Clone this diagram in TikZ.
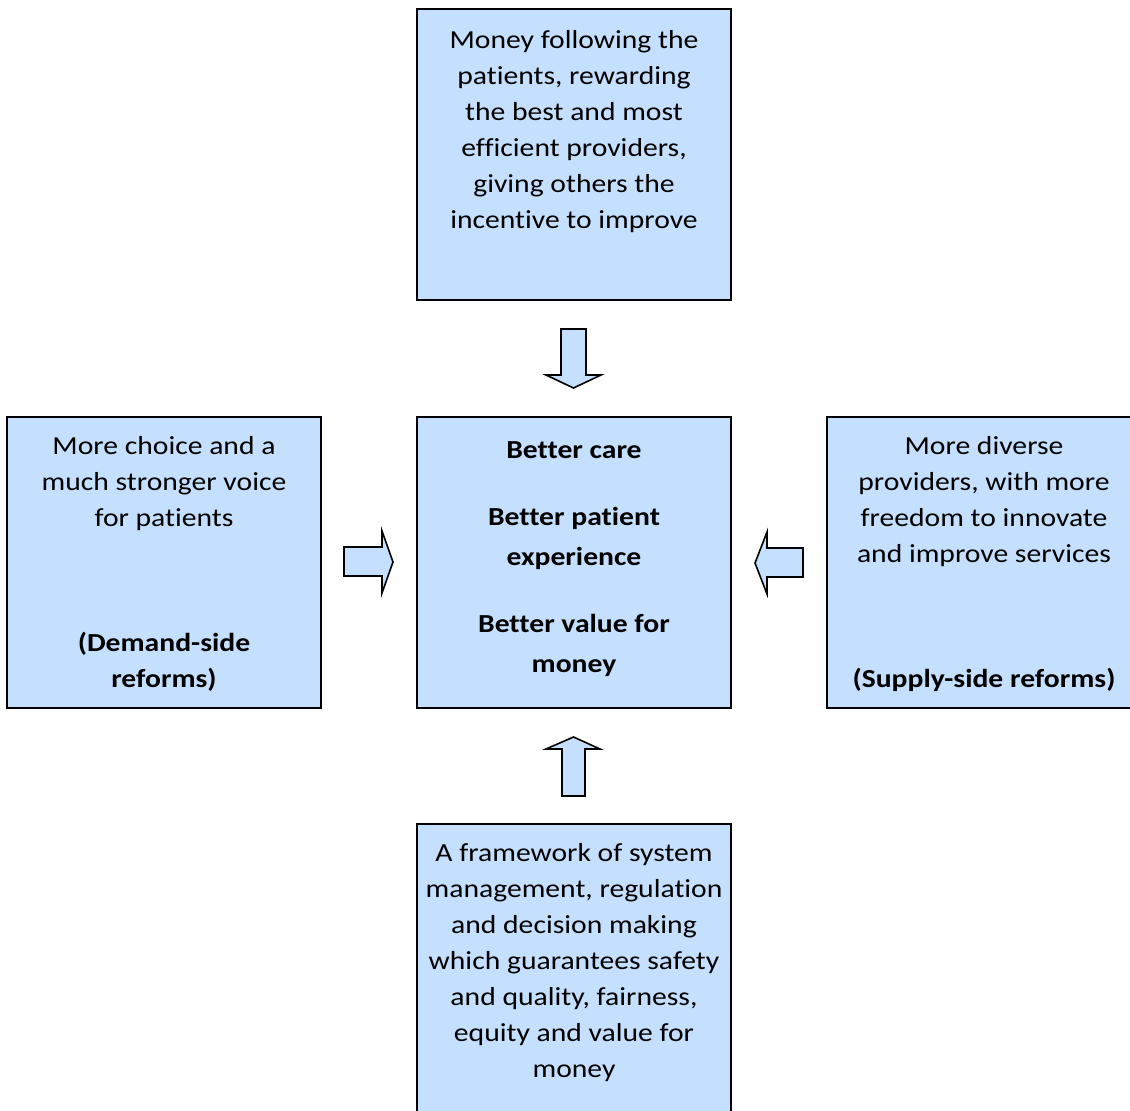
\documentclass[tikz,border=0pt]{standalone}
\usepackage{fontspec}
\setmainfont{Carlito}[FakeStretch=1.14,Ligatures=NoCommon]
\definecolor{boxfill}{RGB}{197,224,255}
\begin{document}
\begin{tikzpicture}[x=1pt,y=-1pt,
  panel/.style={draw=black,fill=boxfill,line width=1.5pt},
  ln/.style={anchor=base,inner sep=0pt,font=\fontsize{26}{36}\selectfont},
  bl/.style={anchor=base,inner sep=0pt,font=\fontsize{26}{36}\selectfont\bfseries},
  blockarrow/.style={draw=black,fill=boxfill,line width=1.6pt,line join=miter}]
\useasboundingbox (0,0) rectangle (1130,1111);
% boxes
\path[panel] (417,9) rectangle (731,300) coordinate (topbox);
\path[panel] (7,417) rectangle (321,708) coordinate (leftbox);
\path[panel] (417,417) rectangle (731,708) coordinate (centerbox);
\path[panel] (827,417) rectangle (1136,708) coordinate (rightbox);
\path[panel] (417,824) rectangle (731,1118) coordinate (bottombox);
% top text
\node[ln] (t1) at (574,48) {Money following the};
\node[ln] (t2) at (574,84) {patients, rewarding};
\node[ln] (t3) at (574,120) {the best and most};
\node[ln] (t4) at (574,156) {efficient providers,};
\node[ln] (t5) at (574,192) {giving others the};
\node[ln] (t6) at (574,228) {incentive to improve};
% left text
\node[ln] (l1) at (164,454) {More choice and a};
\node[ln] (l2) at (164,490) {much stronger voice};
\node[ln] (l3) at (164,526) {for patients};
\node[bl] (l4) at (164,651) {(Demand-side};
\node[bl] (l5) at (164,687) {reforms)};
% center text
\node[bl] (c1) at (574,458) {Better care};
\node[bl] (c2) at (574,525) {Better patient};
\node[bl] (c3) at (574,565) {experience};
\node[bl] (c4) at (574,632) {Better value for};
\node[bl] (c5) at (574,672) {money};
% right text
\node[ln] (r1) at (984,454) {More diverse};
\node[ln] (r2) at (984,490) {providers, with more};
\node[ln] (r3) at (984,526) {freedom to innovate};
\node[ln] (r4) at (984,562) {and improve services};
\node[bl] (r5) at (984,687) {(Supply-side reforms)};
% bottom text
\node[ln] (b1) at (574,861) {A framework of system};
\node[ln] (b2) at (574,897) {management, regulation};
\node[ln] (b3) at (574,933) {and decision making};
\node[ln] (b4) at (574,969) {which guarantees safety};
\node[ln] (b5) at (574,1005) {and quality, fairness,};
\node[ln] (b6) at (574,1041) {equity and value for};
\node[ln] (b7) at (574,1077) {money};
% block arrows
\path[blockarrow] (561,329) -- (586,329) -- (586,375) -- (601,375) -- (573.5,388) -- (546,375) -- (561,375) -- cycle;
\path[blockarrow] (344,547) -- (382,547) -- (382,531) -- (393,562) -- (382,593) -- (382,576) -- (344,576) -- cycle;
\path[blockarrow] (803,548) -- (767,548) -- (767,532) -- (755,563) -- (767,594) -- (767,577) -- (803,577) -- cycle;
\path[blockarrow] (562,796) -- (585,796) -- (585,749) -- (600,749) -- (573.5,737) -- (546,749) -- (562,749) -- cycle;
\end{tikzpicture}
\end{document}
